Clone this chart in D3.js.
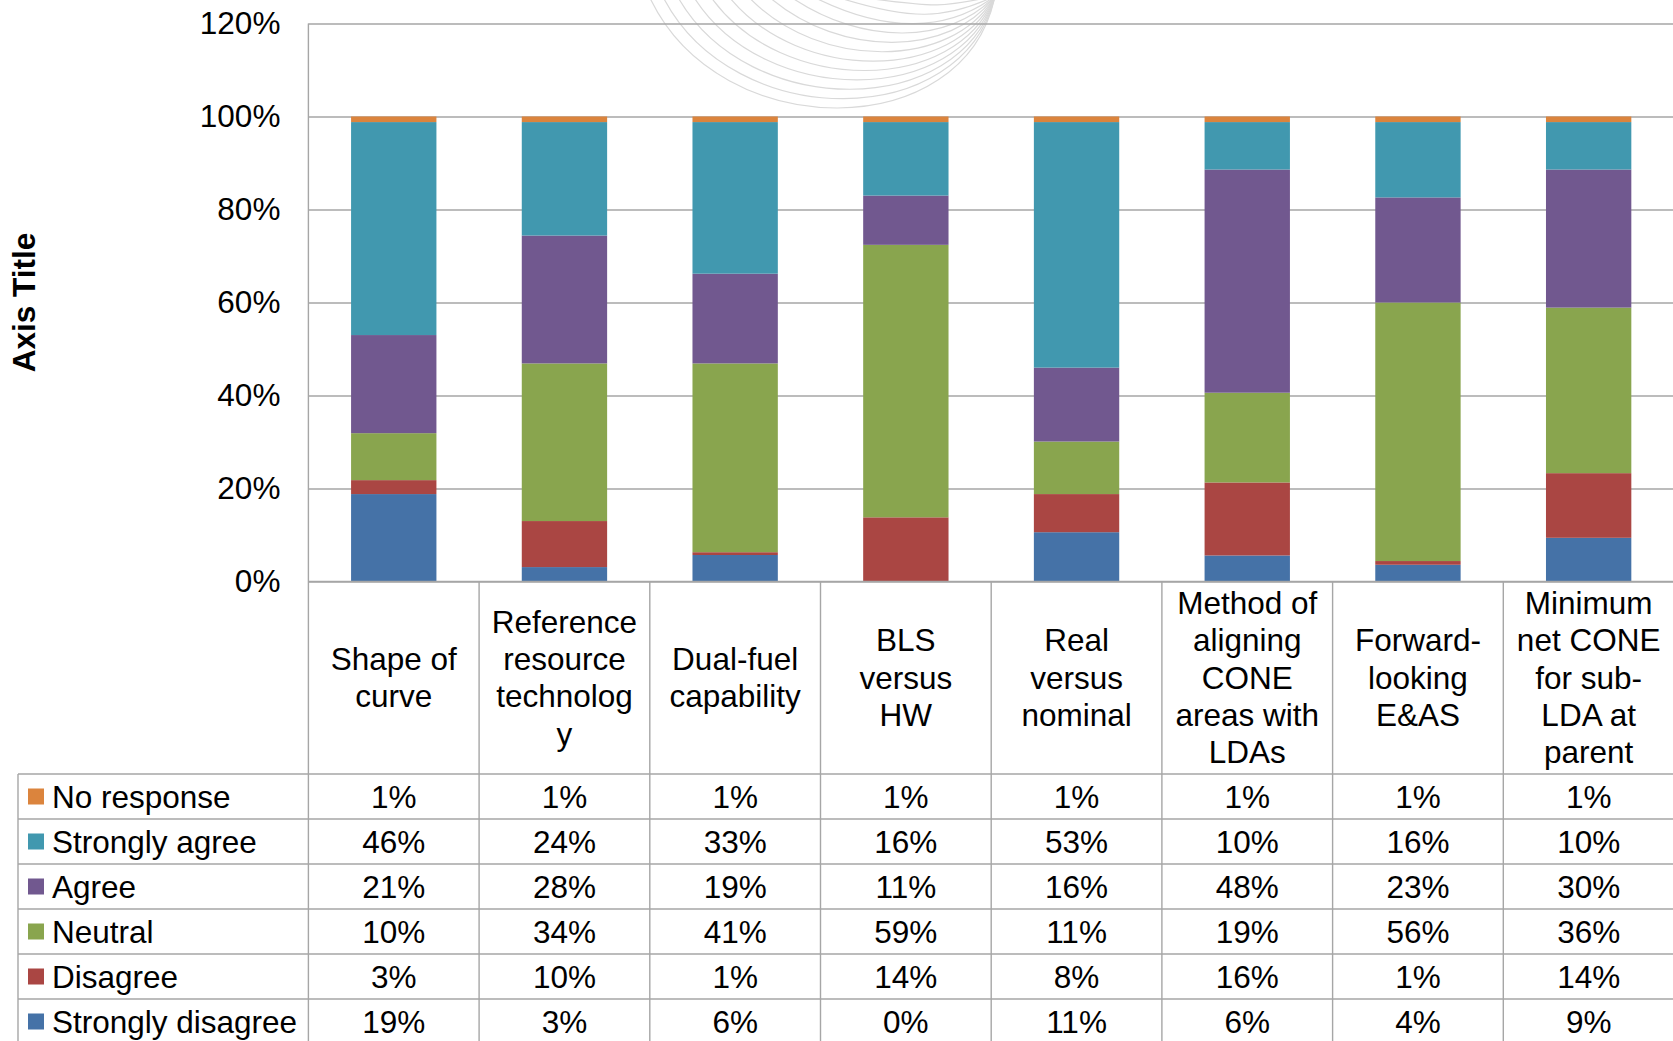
<!DOCTYPE html>
<html lang="en">
<head>
  <meta charset="UTF-8">
  <title>Survey responses by topic</title>
  <style>
    body { margin: 0; background: #fff; }
    text { font-family: "Liberation Sans", Arial, sans-serif; fill: #000; }
  </style>
</head>
<body>
  <svg id="chart" width="1673" height="1041"></svg>

  <script src="https://d3js.org/d3.v7.min.js"></script>

  <script>
    // column headers, broken into lines the way the original table wraps them
    var categories = ["Shape of curve", "Reference resource technology", "Dual-fuel capability",
      "BLS versus HW", "Real versus nominal", "Method of aligning CONE areas with LDAs",
      "Forward-looking E&AS", "Minimum net CONE for sub-LDA at parent"];
    var headerLines = [
      ["Shape of", "curve"],
      ["Reference", "resource", "technolog", "y"],
      ["Dual-fuel", "capability"],
      ["BLS", "versus", "HW"],
      ["Real", "versus", "nominal"],
      ["Method of", "aligning", "CONE", "areas with", "LDAs"],
      ["Forward-", "looking", "E&AS"],
      ["Minimum", "net CONE", "for sub-", "LDA at", "parent"]
    ];

    // stacked bottom to top
    var seriesNames = ["Strongly disagree", "Disagree", "Neutral", "Agree", "Strongly agree", "No response"];
    var stronglyDisagree = [18.8, 3.1, 5.7, 0, 10.6, 5.6, 3.6, 9.4];
    var disagree = [3.0, 9.9, 0.6, 13.8, 8.2, 15.7, 0.8, 13.9];
    var neutral = [10.1, 33.9, 40.6, 58.6, 11.3, 19.3, 55.6, 35.6];
    var agree = [21.1, 27.5, 19.3, 10.6, 15.9, 48.0, 22.6, 29.7];
    var stronglyAgree = [45.8, 24.4, 32.6, 15.8, 52.8, 10.2, 16.2, 10.2];
    var noResponse = [1.2, 1.2, 1.2, 1.2, 1.2, 1.2, 1.2, 1.2];
    var yTicks = [0, 20, 40, 60, 80, 100, 120];

    var seriesValues = [stronglyDisagree, disagree, neutral, agree, stronglyAgree, noResponse];
    var colors = ["#4572A7", "#AA4643", "#89A54E", "#71588F", "#4198AF", "#DB843D"];

    var svg = d3.select("#chart"),
      width = +svg.attr("width"),
      height = +svg.attr("height"),
      plotLeft = 308.4,
      plotRight = 1674,
      plotTop = 23.5,
      plotBottom = 581.5,
      rowTop = 774,
      rowH = 45,
      legendLeft = 18,
      fontSize = 31.5,
      lineColor = "#a6a6a6";

    svg.append("rect").attr("width", width).attr("height", height).attr("fill", "#fff");

    // faint decorative arcs from the slide background
    var deco = svg.append("g").attr("fill", "none").attr("stroke", "#d9d9d9").attr("stroke-width", 1.2);
    d3.range(12).forEach(function(i) {
      var x0 = 650 + i * 13 + i * i * 0.6,
        d = 145 - i * 12.5;
      deco.append("path")
        .attr("d", "M" + x0 + ",-2 C" + (x0 + 70) + "," + d + " " + (965 - i * 2) + "," + d + " 995,-4");
    });

    var rows = categories.map(function(c, i) {
      var r = { category: c };
      seriesNames.forEach(function(s, k) { r[s] = seriesValues[k][i]; });
      return r;
    });

    var x = d3.scaleBand().domain(categories).range([plotLeft, plotRight]).paddingInner(0.5).paddingOuter(0.25);
    var col = d3.scaleBand().domain(categories).range([plotLeft, plotRight]);
    var y = d3.scaleLinear().domain([0, 120]).range([plotBottom, plotTop]);
    var color = d3.scaleOrdinal().domain(seriesNames).range(colors);

    // gridlines + tick labels
    var yAxis = svg.append("g")
      .attr("transform", "translate(" + plotLeft + ",0)")
      .call(d3.axisLeft(y)
        .tickValues(yTicks)
        .tickFormat(function(d) { return d + "%"; })
        .tickSizeInner(-(plotRight - plotLeft))
        .tickSizeOuter(0)
        .tickPadding(28));
    yAxis.select(".domain").remove();
    yAxis.selectAll(".tick line").attr("stroke", lineColor).attr("stroke-width", 1.4);
    yAxis.selectAll(".tick text")
      .attr("x", -28)
      .style("font-family", "\"Liberation Sans\", Arial, sans-serif")
      .style("font-size", fontSize + "px")
      .attr("fill", "#000");

    // stacked bars
    var stacked = d3.stack().keys(seriesNames)(rows);
    svg.append("g")
      .selectAll("g")
      .data(stacked)
      .enter().append("g")
      .attr("fill", function(d) { return color(d.key); })
      .selectAll("rect")
      .data(function(d) { return d; })
      .enter().append("rect")
      .attr("x", function(d) { return x(d.data.category); })
      .attr("width", x.bandwidth())
      .attr("y", function(d) { return y(d[1]); })
      .attr("height", function(d) { return y(d[0]) - y(d[1]); });

    // data table under the plot
    var table = svg.append("g");
    var tableRows = seriesNames.slice().reverse();
    var lastLine = rowTop + rowH * tableRows.length;

    table.append("g").attr("stroke", lineColor).attr("stroke-width", 1.4)
      .selectAll("line")
      .data(d3.range(tableRows.length + 1))
      .enter().append("line")
      .attr("x1", legendLeft).attr("x2", width)
      .attr("y1", function(i) { return rowTop + i * rowH; })
      .attr("y2", function(i) { return rowTop + i * rowH; });

    table.append("line").attr("stroke", lineColor).attr("stroke-width", 1.4)
      .attr("x1", plotLeft).attr("x2", width).attr("y1", plotBottom).attr("y2", plotBottom);

    table.append("g").attr("stroke", lineColor).attr("stroke-width", 1.4)
      .selectAll("line")
      .data(categories.concat([null]))
      .enter().append("line")
      .attr("x1", function(c) { return c ? col(c) : plotRight; })
      .attr("x2", function(c) { return c ? col(c) : plotRight; })
      .attr("y1", function(c, i) { return i === 0 ? plotTop : plotBottom; })
      .attr("y2", lastLine);

    table.append("line").attr("stroke", lineColor).attr("stroke-width", 1.4)
      .attr("x1", legendLeft).attr("x2", legendLeft).attr("y1", rowTop).attr("y2", lastLine);

    // header cells
    var lineH = 37.3,
      headMid = (plotBottom + rowTop) / 2;
    table.selectAll(".head")
      .data(categories)
      .enter().append("text")
      .attr("class", "head")
      .attr("text-anchor", "middle")
      .style("font-size", fontSize + "px")
      .each(function(c, i) {
        var lines = headerLines[i],
          t = d3.select(this);
        lines.forEach(function(l, j) {
          t.append("tspan")
            .attr("x", col(c) + col.bandwidth() / 2)
            .attr("y", headMid + (j - (lines.length - 1) / 2) * lineH)
            .attr("dy", "0.35em")
            .text(l);
        });
      });

    // legend keys + values
    var fmt = d3.format(".0f");
    tableRows.forEach(function(s, r) {
      var cy = rowTop + r * rowH + rowH / 2,
        k = seriesNames.indexOf(s);
      table.append("rect")
        .attr("x", 28).attr("y", cy - 8)
        .attr("width", 16).attr("height", 16)
        .attr("fill", color(s));
      table.append("text")
        .attr("x", 52).attr("y", cy).attr("dy", "0.35em")
        .style("font-size", fontSize + "px")
        .text(s);
      categories.forEach(function(c, i) {
        table.append("text")
          .attr("x", col(c) + col.bandwidth() / 2)
          .attr("y", cy).attr("dy", "0.35em")
          .attr("text-anchor", "middle")
          .style("font-size", fontSize + "px")
          .text(fmt(seriesValues[k][i]) + "%");
      });
    });

    // axis title
    svg.append("text")
      .attr("transform", "translate(23.5," + ((plotTop + plotBottom) / 2) + ") rotate(-90)")
      .attr("text-anchor", "middle")
      .attr("dy", "0.35em")
      .style("font-size", fontSize + "px")
      .style("font-weight", "bold")
      .text("Axis Title");
  </script>
</body>
</html>
